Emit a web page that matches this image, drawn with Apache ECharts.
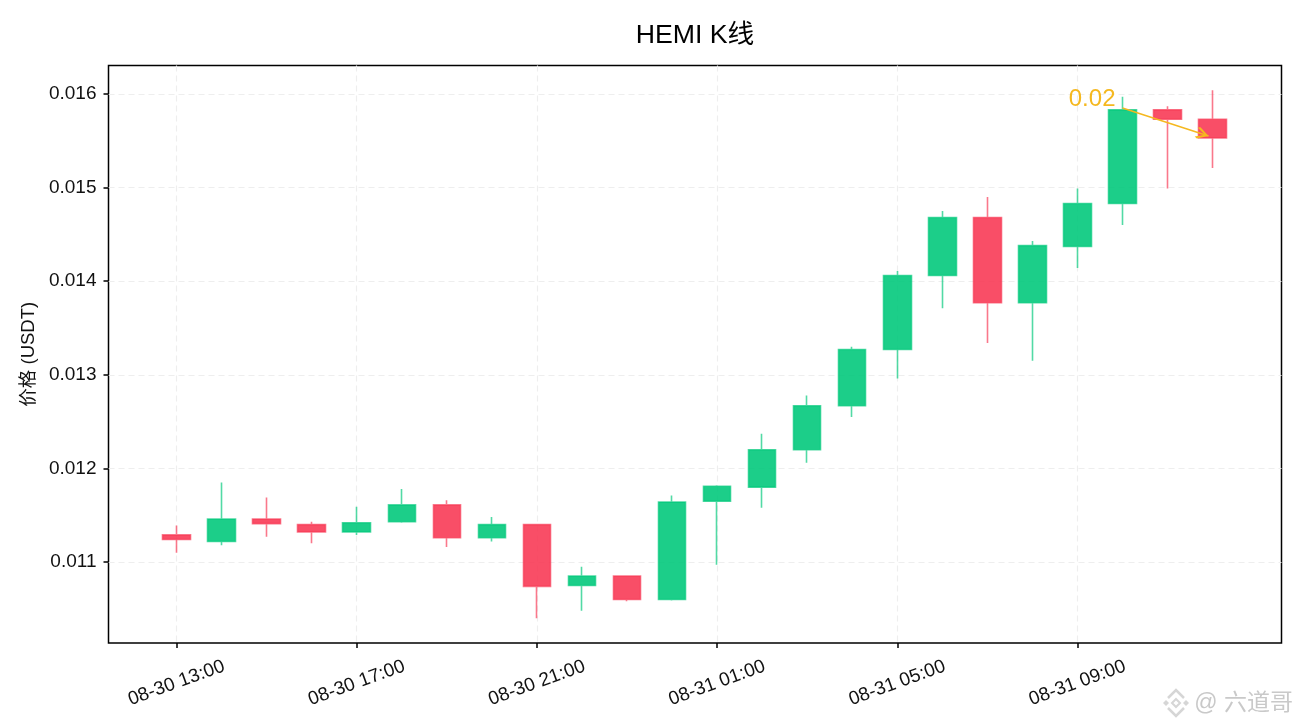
<!DOCTYPE html>
<html><head><meta charset="utf-8">
<style>html,body{margin:0;padding:0;background:#fff}#c{width:1300px;height:728px}</style>
<script src="https://cdn.jsdelivr.net/npm/echarts@6/dist/echarts.min.js"></script>
</head><body><div id="c"></div>
<script>
const titleText = 'HEMI K线';
const yName = '价格 (USDT)';
const times = ['08-30 13:00','08-30 14:00','08-30 15:00','08-30 16:00','08-30 17:00','08-30 18:00','08-30 19:00','08-30 20:00','08-30 21:00','08-30 22:00','08-30 23:00','08-31 00:00','08-31 01:00','08-31 02:00','08-31 03:00','08-31 04:00','08-31 05:00','08-31 06:00','08-31 07:00','08-31 08:00','08-31 09:00','08-31 10:00','08-31 11:00','08-31 12:00'];
const opens  = [.01129,.01122,.01146,.01140,.01132,.01143,.01161,.01126,.01140,.01075,.01085,.01060,.01165,.01180,.01220,.01267,.01327,.01406,.01468,.01377,.01437,.01483,.01583,.01573];
const closes = [.01124,.01146,.01141,.01132,.01142,.01161,.01126,.01140,.01074,.01085,.01060,.01164,.01181,.01220,.01267,.01327,.01406,.01468,.01377,.01438,.01483,.01583,.01573,.01553];
const lows   = [.01110,.01118,.01127,.01120,.01129,.01142,.01116,.01122,.01040,.01048,.01058,.01059,.01097,.01158,.01206,.01255,.01296,.01371,.01334,.01315,.01414,.01460,.01499,.01521];
const highs  = [.01139,.01185,.01169,.01143,.01159,.01178,.01166,.01148,.01141,.01095,.01086,.01171,.01182,.01237,.01278,.01330,.01411,.01475,.01490,.01443,.01499,.01597,.01587,.01604];
const xTicks = [2,6,10,14,18,22];
const yTicks = [.011,.012,.013,.014,.015,.016];
const xMin = 0.49, xMax = 26.53;
const yMin = .010135, yMax = .016304;
const noteText = '0.02';
const noteFrom = [23, .01585];
const noteTo = [24.91, .01555];
const watermark = '@ 六道哥';

const candles = times.map((t,i)=>[i+2,opens[i],closes[i],lows[i],highs[i]]);
const FONT = '"Liberation Sans","Noto Sans CJK SC",sans-serif';
const GOLD = '#f5b81f';
const WM = '#d6d6d6';
const openArrow = 'path://M10 0 L10 0 L10 20 L20 36 L18 40 L10 26 L2 40 L0 36 L10 20 Z';

const chart = echarts.init(document.getElementById('c'),null,{renderer:'canvas'});
chart.setOption({
  animation:false,
  backgroundColor:'#fff',
  title:{text:titleText,left:690,top:17,textAlign:'center',textStyle:{fontFamily:FONT,fontSize:26.7,fontWeight:'normal',color:'#000'}},
  grid:{left:108.5,right:18.5,top:65.5,bottom:85,show:true,borderColor:'#000',borderWidth:1.5,backgroundColor:'transparent'},
  xAxis:{type:'value',min:xMin,max:xMax,
    axisLine:{show:false},
    axisTick:{show:true,customValues:xTicks,length:5,lineStyle:{color:'#000',width:1.5}},
    splitLine:{show:true,customValues:xTicks,lineStyle:{color:'#eeeeee',type:[6,4],width:1.2}},
    axisLabel:{customValues:xTicks,formatter:(v)=>times[v-2],rotate:20,align:'center',verticalAlign:'middle',margin:40,hideOverlap:false,fontFamily:FONT,fontSize:19,color:'#111'}
  },
  yAxis:{type:'value',min:yMin,max:yMax,name:yName,nameLocation:'middle',nameGap:70,
    nameTextStyle:{fontFamily:FONT,fontSize:18.5,color:'#111'},
    axisLine:{show:false},
    axisTick:{show:true,customValues:yTicks,length:5,lineStyle:{color:'#000',width:1.5}},
    splitLine:{show:true,customValues:yTicks,lineStyle:{color:'#eeeeee',type:[6,4],width:1.2}},
    axisLabel:{customValues:yTicks,formatter:(v)=>v.toFixed(3),margin:12,fontFamily:FONT,fontSize:19,color:'#111',padding:[2,0,0,0]}
  },
  series:[{type:'candlestick',data:candles,barWidth:28,encode:{x:0,y:[1,2,3,4]},
    itemStyle:{color:'rgba(0,200,122,0.89)',color0:'rgba(248,56,84,0.89)',borderColor:'rgba(0,200,122,0.68)',borderColor0:'rgba(248,56,84,0.68)',borderWidth:1.6},
    markLine:{silent:true,animation:false,symbol:['none',openArrow],symbolSize:[12,26],
      lineStyle:{color:GOLD,width:1.5,type:'solid',opacity:1},label:{show:false},
      data:[[{coord:noteFrom},{coord:noteTo}]]},
    markPoint:{silent:true,animation:false,symbol:'circle',symbolSize:0,
      data:[{coord:noteFrom,value:noteText,label:{show:true,formatter:noteText,position:'left',distance:7,offset:[0,-9],fontFamily:FONT,fontSize:24,color:GOLD}}]}
  }],
  graphic:[
    {type:'text',right:7,top:692,style:{text:watermark,font:'23px '+FONT,fill:'#c9c9c9'}},
    {type:'polyline',shape:{points:[[1168,698],[1176,690],[1184,698]]},style:{fill:'none',stroke:WM,lineWidth:2.5}},
    {type:'polyline',shape:{points:[[1168,708],[1176,716],[1184,708]]},style:{fill:'none',stroke:WM,lineWidth:2.5}},
    {type:'polygon',shape:{points:[[1176,699],[1180,703],[1176,707],[1172,703]]},style:{fill:'none',stroke:WM,lineWidth:2}},
    {type:'polygon',shape:{points:[[1166,700],[1169,703],[1166,706],[1163,703]]},style:{fill:WM}},
    {type:'polygon',shape:{points:[[1186,700],[1189,703],[1186,706],[1183,703]]},style:{fill:WM}}
  ]
});
</script></body></html>
